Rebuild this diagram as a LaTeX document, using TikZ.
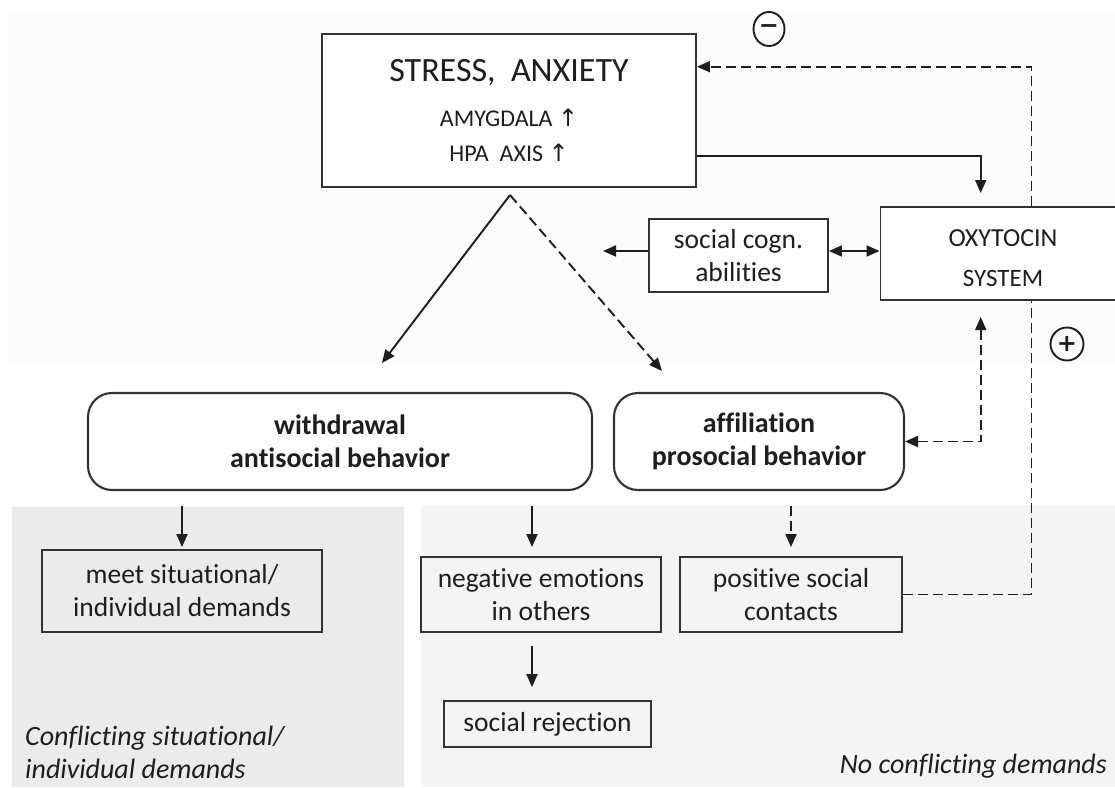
\documentclass[tikz,border=0pt]{standalone}
\usepackage{fontspec}
\setmainfont{Carlito}[Ligatures=NoCommon]
\newfontfamily\arrowfont{DejaVu Sans}
\newfontfamily\signfont{DejaVu Sans Bold}
\usetikzlibrary{arrows.meta,shapes.geometric}
\definecolor{ink}{HTML}{1E1E1E}
\definecolor{edge}{HTML}{333333}
\definecolor{topbg}{HTML}{FCFCFC}
\definecolor{leftbg}{HTML}{EBEBEB}
\definecolor{rightbg}{HTML}{F4F4F4}
\newcommand{\bodyfont}{\fontsize{27.5}{33}\selectfont}
\newcommand{\boldbodyfont}{\fontsize{28}{33}\selectfont\bfseries}
\newcommand{\upar}{{\arrowfont\fontsize{24}{24}\selectfont ↑}}
\tikzset{tipa/.tip={Triangle[length=13pt,width=11pt]}}
\begin{document}
\begin{tikzpicture}[x=1pt,y=-1pt,
  box/.style={draw=edge, line width=1.9pt, inner sep=0pt, align=center, font=\bodyfont, text=ink},
  wbox/.style={box, fill=white},
  rbox/.style={box, fill=white, rounded corners=24pt, line width=2.1pt, font=\boldbodyfont},
  lbl/.style={inner sep=0pt, text=ink},
  arr/.style={draw=ink, line width=1.9pt, -tipa},
  dline/.style={draw=ink, line width=1.9pt, dash pattern=on 10pt off 5pt},
  darr/.style={arr, dash pattern=on 10pt off 5pt},
  sign/.style={circle, draw=ink, line width=1.9pt, minimum size=33pt, inner sep=0pt, text=ink}
]
\clip (0,0) rectangle (1115,787);
\fill[white] (0,0) rectangle (1115,787);
\fill[topbg] (7,10) rectangle (1115,363);
\fill[leftbg] (12,507) rectangle (404,787);
\fill[rightbg] (421,505) rectangle (1115,787);

% top box
\node[wbox, minimum width=374pt, minimum height=153pt] (stress) at (509,110.5) {};
\node[lbl, anchor=base, font=\fontsize{34}{40}\selectfont] (stresst) at (509,81.7) {STRESS,\ \ ANXIETY};
\node[lbl, anchor=base, font=\fontsize{24}{28}\selectfont] (amyg) at (509,126.7) {AMYGDALA \upar};
\node[lbl, anchor=base, font=\fontsize{24}{28}\selectfont] (hpa) at (509,161.7) {HPA\ \ AXIS \upar};

\node[sign, minimum width=31pt, minimum height=34pt, ellipse] (minus) at (769,29) {\signfont\fontsize{24}{24}\selectfont −};
\node[sign] (plus) at (1067,344) {\signfont\fontsize{24}{24}\selectfont +};

% oxytocin
\node[wbox, minimum width=245pt, minimum height=93pt] (oxy) at (1003,253.5) {};
\node[lbl, anchor=base, font=\fontsize{26}{30}\selectfont] (oxyt) at (1003,246) {OXYTOCIN};
\node[lbl, anchor=base, font=\fontsize{25}{30}\selectfont] (oxys) at (1003,286) {SYSTEM};

\node[wbox, minimum width=179pt, minimum height=73pt] (soc) at (738.5,255.5) {social cogn.\\abilities};

% behaviours
\node[rbox, minimum width=504pt, minimum height=97pt] (wd) at (340,441.5) {withdrawal\\antisocial behavior};
\node[rbox, minimum width=290pt, minimum height=97pt] (af) at (759,441.5) {affiliation\\prosocial behavior};

% consequences
\node[box, minimum width=280pt, minimum height=82pt] (meet) at (182,591) {meet situational/\\individual demands};
\node[box, minimum width=240pt, minimum height=75pt] (neg) at (541,594.5) {negative emotions\\in others};
\node[box, minimum width=222pt, minimum height=75pt] (pos) at (791,594.5) {positive social\\contacts};
\node[box, minimum width=207pt, minimum height=46pt] (rej) at (547.5,724) {social rejection};

\node[lbl, anchor=base west, font=\fontsize{28}{33}\selectfont\itshape] (conf1) at (25,745) {Conflicting situational/};
\node[lbl, anchor=base west, font=\fontsize{28}{33}\selectfont\itshape] (conf2) at (25,778) {individual demands};
\node[lbl, anchor=base east, font=\fontsize{28}{33}\selectfont\itshape] (noconf) at (1107,773) {No conflicting demands};

% connectors
\coordinate (vapex) at (510,195);
\coordinate (vl) at (382,363);
\coordinate (vr) at (662,371);
\draw[arr] (vapex) -- (vl);
\draw[darr] (vapex) -- (vr);

\coordinate (so) at (980.7,156);
\coordinate (sotip) at (980.7,193);
\draw[arr] (stress.east |- so) -- (so) -- (sotip);

\coordinate (socy) at (0,251);
\coordinate (socl) at (603,251);
\draw[arr] (soc.west |- socy) -- (socl);
\draw[draw=ink, line width=1.9pt, tipa-tipa] (soc.east |- socy) -- (oxy.west |- socy);

\coordinate (fbx) at (1031.5,66.7);
\draw[dline] (pos.east) -- (pos.east -| fbx) -- (fbx |- oxy.south);
\draw[darr] (fbx |- oxy.north) -- (fbx) -- (stress.east |- fbx);

\coordinate (afc) at (980.7,441.5);
\coordinate (aftip) at (980.7,317);
\draw[draw=ink, line width=1.9pt, dash pattern=on 10pt off 5pt, tipa-tipa] (af.east) -- (afc) -- (aftip);

\coordinate (dy) at (0,506);
\coordinate (mx) at (532,506);
\draw[arr] (meet.north |- dy) -- ([yshift=2pt]meet.north);
\draw[arr, shorten >=9pt] (mx) -- (mx |- neg.north);
\draw[arr, shorten <=13pt, shorten >=13pt] (mx |- neg.south) -- (mx |- rej.north);
\draw[darr, shorten >=9pt] (pos.north |- dy) -- (pos.north);
\end{tikzpicture}
\end{document}
